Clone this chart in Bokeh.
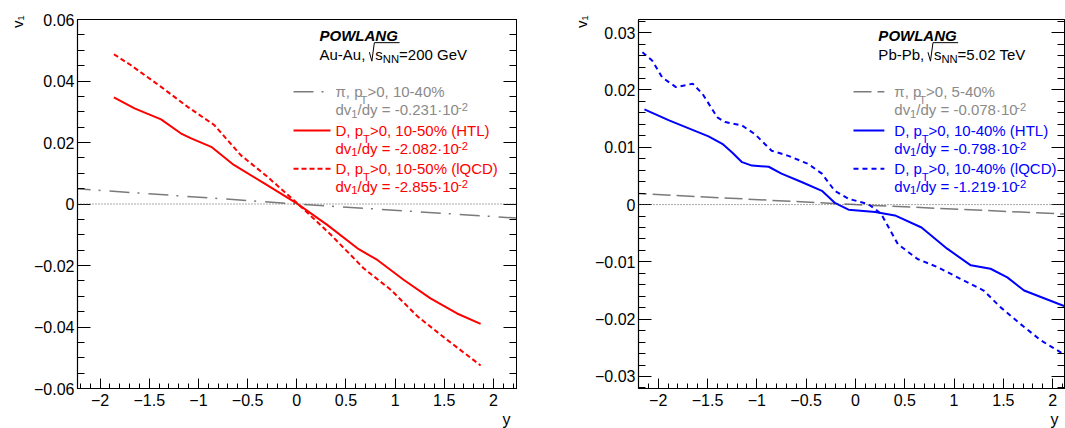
import re
import math
from bokeh.plotting import figure
from bokeh.models import Range1d, LinearAxis, FixedTicker, CustomJSTickFormatter, Label, Span, Title
from bokeh.layouts import row
from bokeh.embed import file_html
from bokeh.resources import INLINE

# ---------------- data ----------------
x_major_ticks = [-2.0, -1.5, -1.0, -0.5, 0.0, 0.5, 1.0, 1.5, 2.0]
au_y_major_ticks = [-0.06, -0.04, -0.02, 0.0, 0.02, 0.04, 0.06]
pb_y_major_ticks = [-0.03, -0.02, -0.01, 0.0, 0.01, 0.02, 0.03]

# Au-Au, 200 GeV
au_pi_y = [-2.3, 0.0, 2.3]
au_pi_v1 = [0.0051, 0.0, -0.0047]
au_htl_y = [-1.86, -1.65, -1.38, -1.18, -1.08, -0.87, -0.64, -0.33, 0.0, 0.31, 0.63, 0.82, 1.09, 1.36, 1.63, 1.87]
au_htl_v1 = [0.0347, 0.0311, 0.0275, 0.0230, 0.0214, 0.0186, 0.0127, 0.0067, 0.0002, -0.0068, -0.0147,
             -0.0182, -0.0247, -0.0307, -0.0356, -0.0390]
au_lqcd_y = [-1.86, -1.69, -1.38, -1.11, -0.84, -0.57, -0.30, 0.0, 0.35, 0.68, 0.96, 1.23, 1.53, 1.87]
au_lqcd_v1 = [0.0487, 0.0452, 0.0381, 0.0316, 0.0257, 0.0159, 0.0089, 0.0004, -0.0101, -0.0209, -0.0280,
              -0.0366, -0.0442, -0.0525]

# Pb-Pb, 5.02 TeV
pb_pi_y = [-2.3, 0.0, 2.3]
pb_pi_v1 = [0.0020, 0.0, -0.0018]
pb_htl_y = [-2.14, -1.89, -1.69, -1.49, -1.35, -1.25, -1.15, -1.05, -0.88, -0.75, -0.54, -0.34, -0.21, -0.07,
            0.20, 0.40, 0.67, 0.93, 1.17, 1.37, 1.54, 1.71, 2.13, 2.20]
pb_htl_v1 = [0.0166, 0.0147, 0.0133, 0.0119, 0.0106, 0.0091, 0.0074, 0.0068, 0.0066, 0.0054, 0.0039, 0.0024,
             0.0003, -0.0009, -0.0013, -0.0019, -0.0040, -0.0077, -0.0106, -0.0112, -0.0127, -0.0150,
             -0.0178, -0.0182]
pb_lqcd_y = [-2.16, -2.06, -1.96, -1.82, -1.65, -1.55, -1.40, -1.32, -1.15, -1.02, -0.85, -0.68, -0.48, -0.34,
             -0.21, -0.07, 0.13, 0.26, 0.43, 0.63, 0.83, 1.07, 1.30, 1.47, 1.67, 1.88, 2.13, 2.20]
pb_lqcd_v1 = [0.0266, 0.0251, 0.0222, 0.0205, 0.0211, 0.0193, 0.0152, 0.0144, 0.0138, 0.0123, 0.0094, 0.0085,
              0.0071, 0.0054, 0.0024, 0.0010, 0.0001, -0.0016, -0.0069, -0.0095, -0.0109, -0.0130, -0.0150,
              -0.0179, -0.0208, -0.0237, -0.0263, -0.0270]

model_name = "POWLANG"
au_system = ["Au-Au,", "200 GeV"]
pb_system = ["Pb-Pb,", "5.02 TeV"]
au_legend = ["π, p_{T}>0, 10-40%", "D, p_{T}>0, 10-50% (HTL)", "D, p_{T}>0, 10-50% (lQCD)"]
au_slopes = ["-0.231", "-2.082", "-2.855"]
pb_legend = ["π, p_{T}>0, 5-40%", "D, p_{T}>0, 10-40% (HTL)", "D, p_{T}>0, 10-40% (lQCD)"]
pb_slopes = ["-0.078", "-0.798", "-1.219"]
y_title = "v₁"
x_title = "y"

# ---------------- styling helpers ----------------
FONT = "Liberation Sans"
RED = "#ff0000"
BLUE = "#0000ff"
GRAY_LINE = "#7a7a7a"
GRAY_TEXT = "#8a8a8a"
H = 428
SHIFT = 0.33  # empirical baseline correction (em)

AW = {' ': 278, ',': 278, '-': 333, '.': 278, '/': 278, '=': 584, '>': 584, '%': 889, '(': 333, ')': 333,
      'A': 667, 'C': 722, 'D': 722, 'G': 778, 'H': 722, 'L': 556, 'N': 722, 'P': 667, 'Q': 778, 'T': 611,
      'V': 667, 'b': 556, 'd': 556, 'e': 556, 'l': 222, 'p': 556, 's': 500, 'u': 556, 'v': 500, 'y': 500,
      '·': 278, 'π': 560, '√': 549}


def tw(s, size):
    return sum(AW.get(c, 556) for c in s) * size / 1000.0


def px2d(g, px, py):
    x = g['xs'] + (px - g['fl']) * (g['xe'] - g['xs']) / (g['fr'] - g['fl'])
    y = g['ye'] - (py - g['ft']) * (g['ye'] - g['ys']) / (g['fb'] - g['ft'])
    return x, y


def parse(s):
    out = []
    for tok in re.split(r'(_\{[^}]*\}|\^\{[^}]*\})', s):
        if not tok:
            continue
        if tok.startswith('_{'):
            kind = 'subl' if (out and out[-1][0].endswith('p')) else 'sub'
            out.append((tok[2:-1], kind))
        elif tok.startswith('^{'):
            out.append((tok[2:-1], 'sup'))
        else:
            out.append((tok, 'n'))
    return out


def put_text(p, g, x, base, txt, color, fs, style="normal", align="left"):
    X, Y = px2d(g, x, base - SHIFT * fs)
    p.add_layout(Label(x=X, y=Y, text=txt, text_font=FONT, text_font_size=f"{fs:.2f}px",
                       text_color=color, text_baseline="alphabetic", text_align=align,
                       text_font_style=style))


def rich(p, g, x0, cy, pieces, color, size=15, style="normal"):
    base = cy + 0.358 * size
    x = x0
    for txt, kind in pieces:
        if kind == 'n':
            fs, dy = size, 0.0
        elif kind == 'sub':
            fs, dy = 0.75 * size, 0.17 * size
        elif kind == 'subl':
            fs, dy = 0.75 * size, 0.48 * size
        else:
            fs, dy = 0.75 * size, -0.25 * size
        put_text(p, g, x, base + dy, txt, color, fs, style)
        x += tw(txt, fs)
    return x


FMT = CustomJSTickFormatter(code="""
if (Math.abs(tick) < 1e-9) { return '0'; }
var s = String(parseFloat(tick.toFixed(4)));
return s.replace('-', '\u2212');
""")


def make_fig(g, width, vt_standoff):
    bl = g['fl']
    br = width - g['fr']
    p = figure(width=width, height=H, x_range=Range1d(g['xs'], g['xe']), y_range=Range1d(g['ys'], g['ye']),
               output_backend="svg", toolbar_location=None,
               min_border_left=bl, min_border_right=br, min_border_top=g['ft'], min_border_bottom=H - g['fb'])
    p.xgrid.visible = False
    p.ygrid.visible = False
    p.background_fill_color = "white"
    p.border_fill_color = "white"
    p.outline_line_color = "black"
    p.outline_line_width = 1
    x_minor = [round(-2.2 + 0.1 * i, 2) for i in range(45)]
    xa = p.xaxis[0]
    xa.ticker = FixedTicker(ticks=x_major_ticks, minor_ticks=x_minor)
    xa.formatter = FMT
    xa.major_tick_in = 10
    xa.major_tick_out = 0
    xa.minor_tick_in = 5
    xa.minor_tick_out = 0
    xa.major_label_standoff = 5
    ya = p.yaxis[0]
    ya.ticker = FixedTicker(ticks=g['ymaj'], minor_ticks=g['ymin'])
    ya.formatter = FMT
    ya.major_tick_in = 13
    ya.major_tick_out = 0
    ya.minor_tick_in = 7
    ya.minor_tick_out = 0
    ya.major_label_standoff = 3
    for ax in (xa, ya):
        ax.major_label_text_font = FONT
        ax.major_label_text_font_size = "16px"
        ax.major_label_text_color = "black"
        ax.axis_line_color = "black"
        ax.axis_line_width = 1.2
        ax.major_tick_line_color = "black"
        ax.minor_tick_line_color = "black"
    ra = LinearAxis(ticker=FixedTicker(ticks=g['ymaj'], minor_ticks=g['ymin']),
                    formatter=CustomJSTickFormatter(code="return '';"),
                    major_label_text_font_size="0px", major_label_standoff=0,
                    major_tick_in=13, major_tick_out=0, minor_tick_in=7, minor_tick_out=0,
                    axis_line_color="black", major_tick_line_color="black", minor_tick_line_color="black")
    p.add_layout(ra, "right")
    p.add_layout(Title(text=y_title, align="right", text_font=FONT, text_font_size="15px",
                       text_font_style="normal", text_color="black", standoff=vt_standoff, offset=-4), "left")
    p.add_layout(Title(text=x_title, align="right", text_font=FONT, text_font_size="16px",
                       text_font_style="normal", text_color="black", standoff=0, offset=6), "below")
    p.add_layout(Span(location=0, dimension="width", line_color="#555555", line_width=1, line_dash="1 2"))
    return p


def header(p, g, x0, system):
    put_text(p, g, x0, 35 + 0.358 * 15, model_name, "black", 15, style="bold italic")
    cy = 53.8
    base = cy + 0.358 * 15
    rich(p, g, x0, cy, [(system[0], 'n')], "black")
    sx = x0 + tw(system[0], 15) + 4.0
    xs_ = sx + 6.0
    xe_ = rich(p, g, xs_, cy, [("s", 'n'), ("NN", 'sub')], "black")
    pts = [(sx, base - 7.5), (sx + 2.5, base + 1.5), (sx + 5.0, base - 17.0), (xe_ + 0.5, base - 17.0)]
    d = [px2d(g, a, b) for a, b in pts]
    p.line([q[0] for q in d], [q[1] for q in d], line_color="black", line_width=1)
    rich(p, g, xe_, cy, [("=" + system[1], 'n')], "black")


def legend(p, g, lx0, lx1, tx, entries, slopes, colors, dashes, widths):
    rows = [90.5, 108.8, 129.2, 147.2, 167.5, 185.3]
    for i in range(3):
        cy = rows[2 * i]
        a = px2d(g, lx0, cy + 0.8)
        b = px2d(g, lx1, cy + 0.8)
        p.line([a[0], b[0]], [a[1], b[1]], line_color=colors[i][0], line_width=widths[i], line_dash=dashes[i])
        rich(p, g, tx, cy, parse(entries[i]), colors[i][1])
        rich(p, g, tx, rows[2 * i + 1], parse("dv_{1}/dy = " + slopes[i] + "·10^{-2}"), colors[i][1])


# ---------------- left panel: Au-Au ----------------
G_AU = dict(fl=77, fr=516, ft=19, fb=388, xs=-2.23, xe=2.235, ys=-0.06, ye=0.06,
            ymaj=au_y_major_ticks, ymin=[round(-0.06 + 0.005 * i, 3) for i in range(25)])
p1 = make_fig(G_AU, 567, 12)
p1.line(au_pi_y, au_pi_v1, line_color=GRAY_LINE, line_width=1.5, line_dash="20 8 2 9")
p1.line(au_htl_y, au_htl_v1, line_color=RED, line_width=2)
p1.line(au_lqcd_y, au_lqcd_v1, line_color=RED, line_width=2, line_dash="5 3")
header(p1, G_AU, 319, au_system)
legend(p1, G_AU, 293, 330, 335, au_legend, au_slopes,
       [(GRAY_LINE, GRAY_TEXT), (RED, RED), (RED, RED)], ["20 8 2 9", "solid", "5 3"], [1.5, 2, 2])

# ---------------- right panel: Pb-Pb (figure starts at page x = 567) ----------------
OX = 567
G_PB = dict(fl=636 - OX, fr=1064 - OX, ft=19, fb=388, xs=-2.2, xe=2.12, ys=-0.0321, ye=0.0323,
            ymaj=pb_y_major_ticks, ymin=[round(-0.032 + 0.002 * i, 3) for i in range(33)])
p2 = make_fig(G_PB, 498, 6)
p2.line(pb_pi_y, pb_pi_v1, line_color=GRAY_LINE, line_width=1.5, line_dash="18 6")
p2.line(pb_htl_y, pb_htl_v1, line_color=BLUE, line_width=2)
p2.line(pb_lqcd_y, pb_lqcd_v1, line_color=BLUE, line_width=2, line_dash="5 4")
header(p2, G_PB, 877 - OX, pb_system)
legend(p2, G_PB, 852 - OX, 883 - OX, 893 - OX, pb_legend, pb_slopes,
       [(GRAY_LINE, GRAY_TEXT), (BLUE, BLUE), (BLUE, BLUE)], ["18 6", "solid", "5 4"], [1.5, 2, 2])

layout = row(p1, p2)
open("out.html", "w").write(file_html(layout, INLINE))
